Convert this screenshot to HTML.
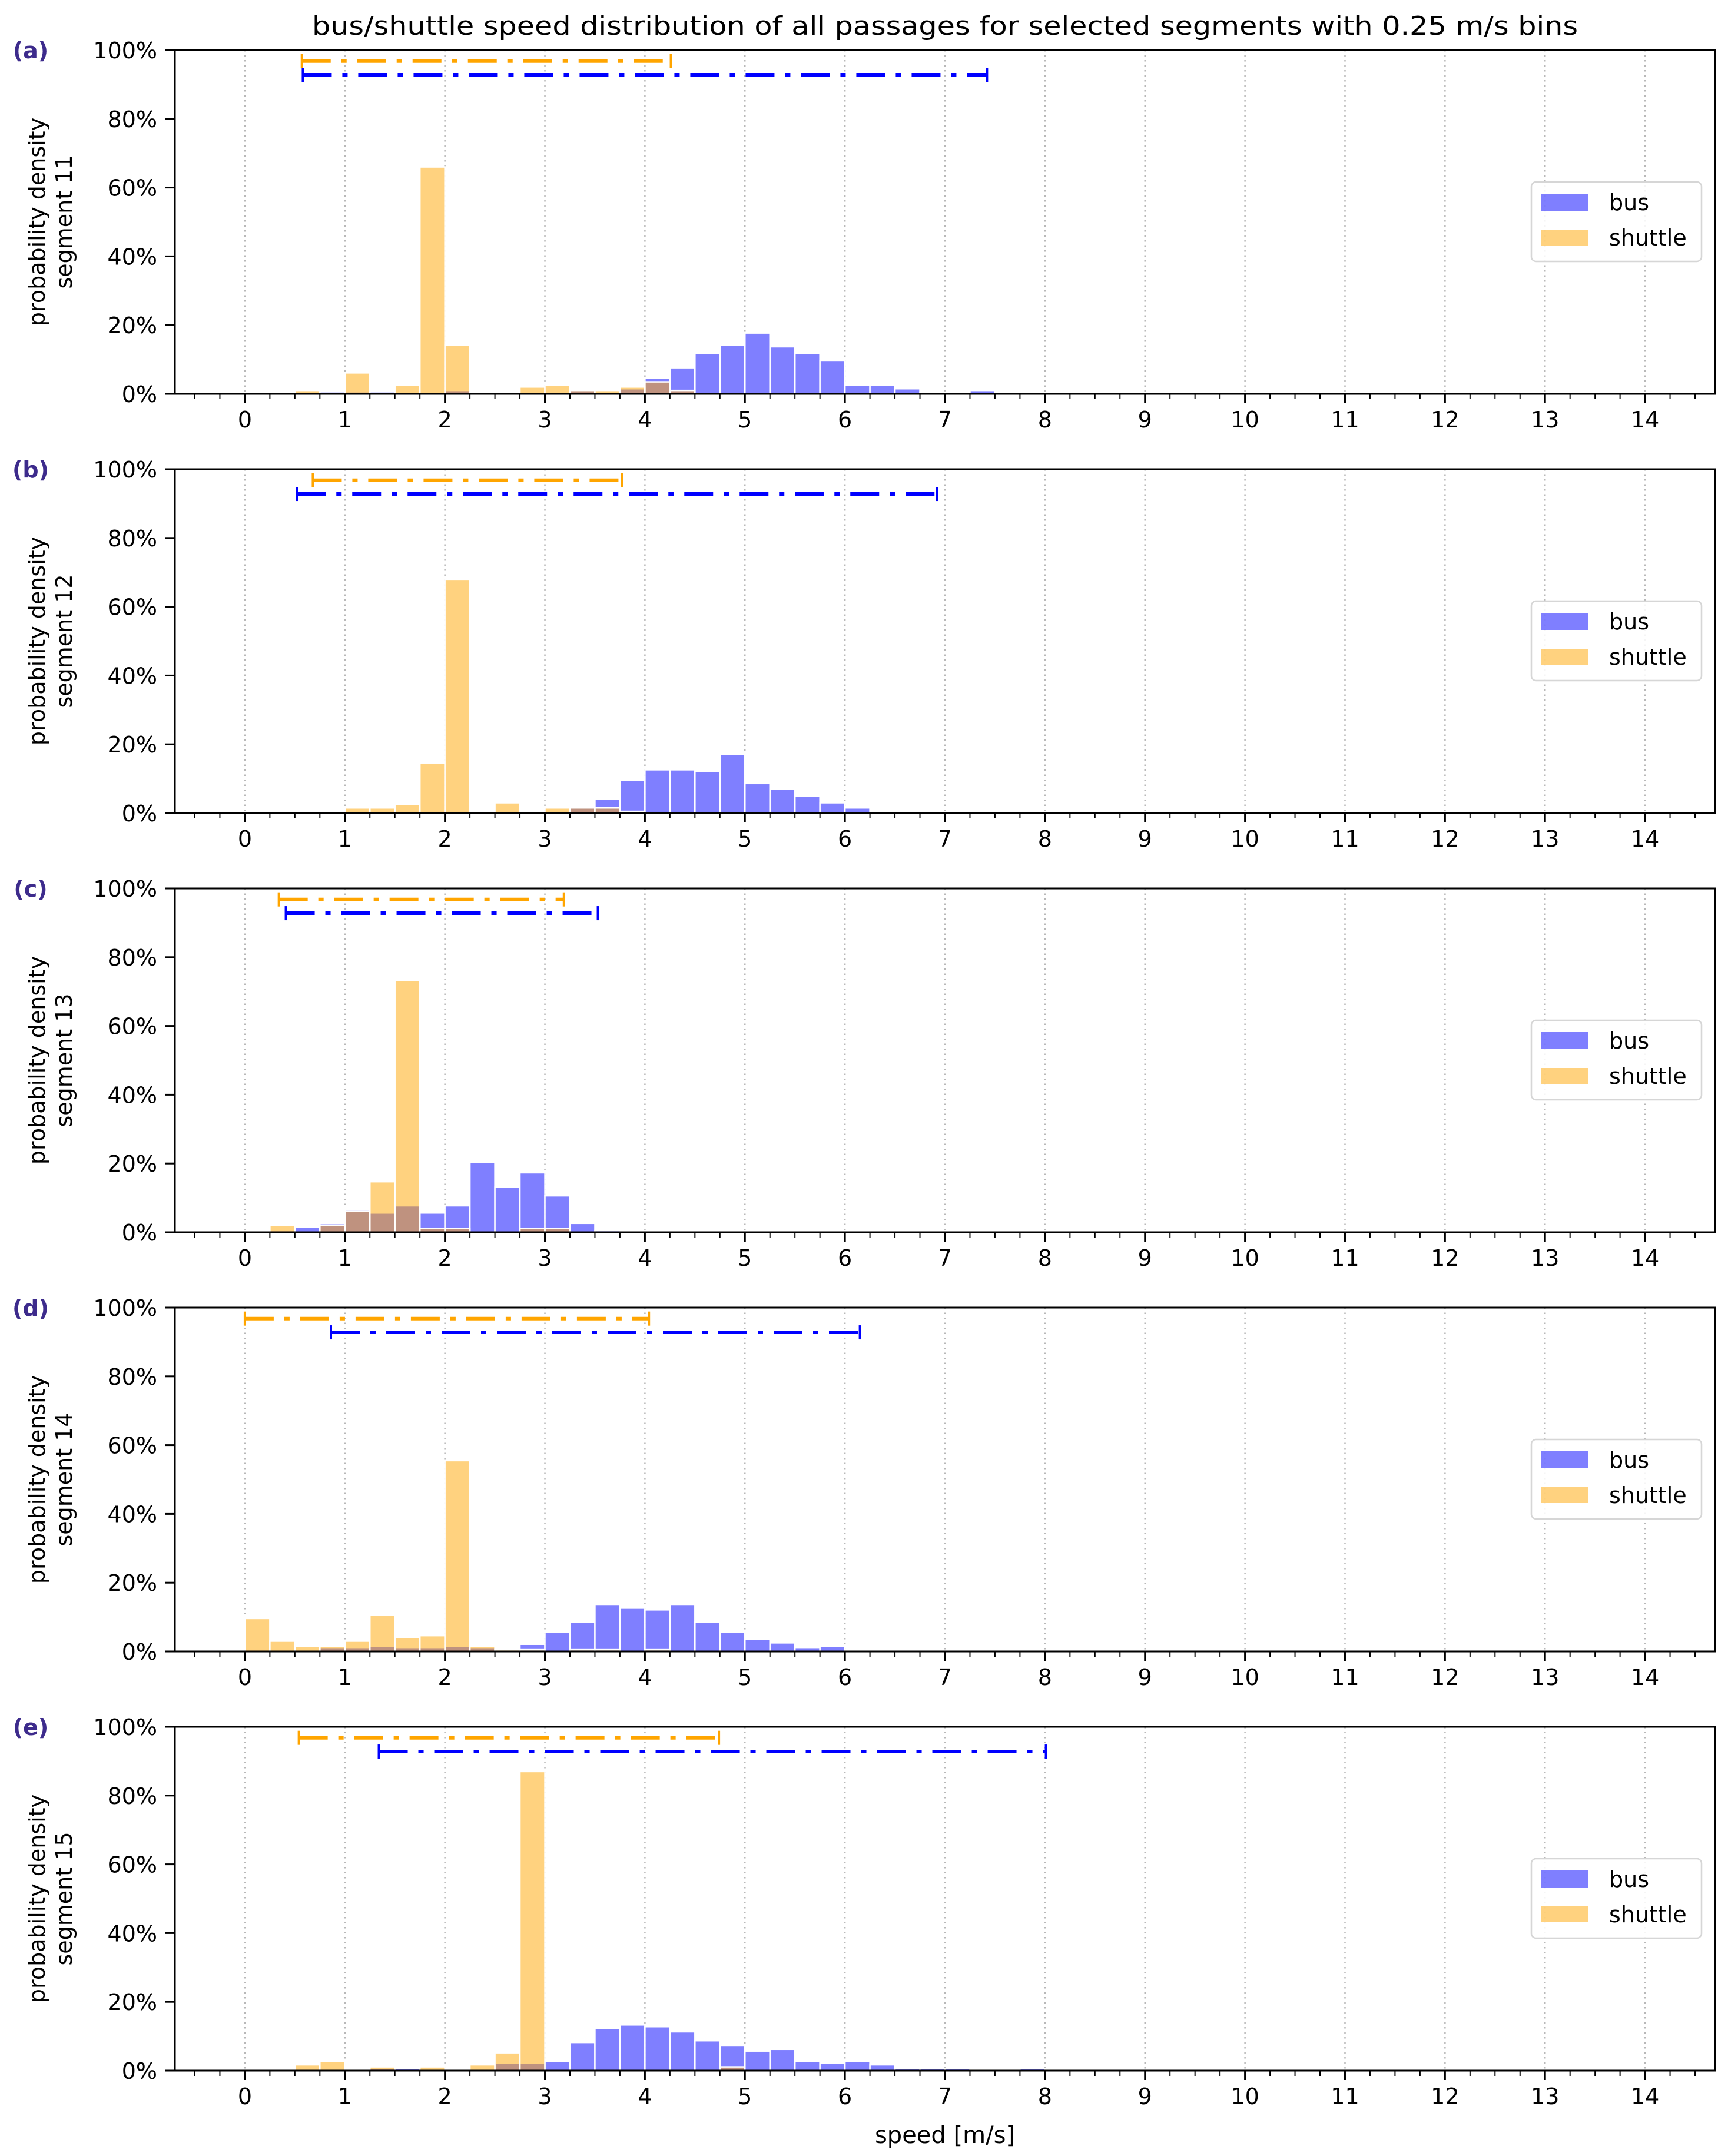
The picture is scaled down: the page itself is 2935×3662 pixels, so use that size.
<!DOCTYPE html>
<html><head><meta charset="utf-8">
<style>
html,body{margin:0;padding:0;background:#fff;}
svg{display:block;font-family:"DejaVu Sans","Liberation Sans",sans-serif;}
</style></head>
<body>
<svg id="chart" xmlns="http://www.w3.org/2000/svg" width="2935" height="3662" viewBox="0 0 2935 3662">
<rect width="2935" height="3662" fill="#fff"/>
<text x="1605" y="59" font-size="44" text-anchor="middle" textLength="2150" lengthAdjust="spacingAndGlyphs">bus/shuttle speed distribution of all passages for selected segments with 0.25 m/s bins</text>
<text x="1605" y="3640" font-size="40" text-anchor="middle">speed [m/s]</text>
</svg>
<script>
// bins of 0.25 m/s starting at 0 (values in %)
const binWidth = 0.25;
const panelLetters = ["(a)","(b)","(c)","(d)","(e)"];
const segmentNames = ["segment 11","segment 12","segment 13","segment 14","segment 15"];
const busA = [0,0,0.5,0.6,0.6,0.6,0,0,1.0,0,0,0,0,1.0,0.5,1.5,4.6,7.6,11.7,14.2,17.7,13.7,11.7,9.6,2.5,2.5,1.5,0.5,0,1.0,0,0];
const shuttleA = [0,0,1.0,0,6.1,0,2.5,66,14.2,0,0,2.0,2.5,1.0,1.0,2.0,3.5,1.0,0,0,0,0,0,0,0,0,0,0,0,0,0,0];
const busB = [0,0,0,0,0,0,0,0,0,0,0,0,0,2.0,4.1,9.6,12.6,12.6,12.1,17.1,8.6,7.0,5.0,3.0,1.5,0,0,0,0,0,0,0];
const shuttleB = [0,0,0.5,0.5,1.5,1.5,2.5,14.6,68,0.5,3.0,0.5,1.5,1.5,1.5,0.5,0,0,0,0,0,0,0,0,0,0,0,0,0,0,0,0];
const busC = [0,0.5,1.5,2.6,6.6,5.6,7.7,5.6,7.7,20.3,13.1,17.3,10.6,2.6,0.5,0,0,0,0,0,0,0,0,0,0,0,0,0,0,0,0,0];
const shuttleC = [0,2.0,0,2.1,6.1,14.7,73.3,1.1,1.1,0,0,1.1,1.1,0,0,0,0,0,0,0,0,0,0,0,0,0,0,0,0,0,0,0];
const busD = [0,0,0,1.0,1.0,1.5,1.0,1.0,1.5,1.0,0,2.1,5.6,8.6,13.7,12.6,12.1,13.7,8.6,5.6,3.5,2.5,1.0,1.5,0,0,0,0,0,0,0,0];
const shuttleD = [9.6,3.0,1.5,1.5,3.0,10.6,4.1,4.6,55.5,1.5,0.5,0.5,0,0.5,0.5,0,0.5,0,0,0,0,0,0,0,0,0,0,0,0,0,0,0];
const busE = [0,0,0,0,0,0.6,0.6,0,0,0,2.2,2.2,2.7,8.2,12.3,13.3,12.8,11.3,8.7,7.2,5.7,6.2,2.7,2.2,2.7,1.7,0.6,0.6,0.6,0,0,0.6];
const shuttleE = [0,0,1.7,2.7,0,1.1,0,1.1,0,1.7,5.2,87,0,0,0,0,0,0,0,1.1,0,0,0,0,0,0,0,0,0,0,0,0];
const busRanges = [[0.58,7.42],[0.52,6.92],[0.41,3.53],[0.86,6.15],[1.34,8.01]];
const shuttleRanges = [[0.57,4.26],[0.68,3.77],[0.34,3.19],[0.0,4.04],[0.54,4.74]];
const busSeries = [busA,busB,busC,busD,busE];
const shuttleSeries = [shuttleA,shuttleB,shuttleC,shuttleD,shuttleE];
const xTickLabels = [0,1,2,3,4,5,6,7,8,9,10,11,12,13,14];
const yTickLabels = [0,20,40,60,80,100];

const NS = "http://www.w3.org/2000/svg";
const svg = document.getElementById('chart');
const L = 297, R = 2913, XMIN = -0.7, XMAX = 14.7, PH = 584;
const tops = [85, 797, 1509, 2221, 2933];
const xs = v => L + (v - XMIN) / (XMAX - XMIN) * (R - L);
function mk(tag, attrs, parent){ const e = document.createElementNS(NS, tag); for (const k in attrs) e.setAttribute(k, attrs[k]); (parent||svg).appendChild(e); return e; }

tops.forEach((top, p) => {
  const bot = top + PH;
  const ys = v => bot - v / 100 * PH;
  const g = mk('g', {});
  
  
  xTickLabels.forEach(t => {
    const gl = mk('line', {x1: xs(t), x2: xs(t), y1: top, y2: bot, stroke: '#b8b8b8', 'stroke-width': 2.5, 'stroke-dasharray': '2.5,6'}, g);
    
    
  });
  const drawBars = (arr, color, name) => {
    arr.forEach((v, i) => {
      if (v <= 0) return;
      const x0 = xs(i * binWidth), x1 = xs((i + 1) * binWidth);
      const r = mk('rect', {x: x0, y: ys(v), width: x1 - x0, height: bot - ys(v), fill: color, 'fill-opacity': 0.5, stroke: '#fff', 'stroke-width': 2.5}, g);
      
      
    });
  };
  drawBars(busSeries[p], '#0000ff', 'bus');
  drawBars(shuttleSeries[p], '#ffa500', 'shuttle');
  const drawRange = (rg, yv, color, name) => {
    const y = ys(yv);
    const ln = mk('line', {x1: xs(rg[0]), x2: xs(rg[1]), y1: y, y2: y, stroke: color, 'stroke-width': 6, 'stroke-dasharray': '49,18,9,18'}, g);
    
    
    [rg[0], rg[1]].forEach(v => {
      const c = mk('line', {x1: xs(v), x2: xs(v), y1: y - 12, y2: y + 12, stroke: color, 'stroke-width': 4}, g);
      
      
    });
  };
  drawRange(shuttleRanges[p], 96.8, '#ffa500', 'shuttle');
  drawRange(busRanges[p], 92.8, '#0000ff', 'bus');
  const fr = mk('rect', {x: L, y: top, width: R - L, height: PH, fill: 'none', stroke: '#000', 'stroke-width': 3}, g);
  
  
  for (let k = -2; k <= 58; k++) {
    const v = k * 0.25;
    if (v < XMIN || v > XMAX) continue;
    const major = (k % 4 === 0);
    const t = mk('line', {x1: xs(v), x2: xs(v), y1: bot, y2: bot + (major ? 16 : 9), stroke: '#000', 'stroke-width': major ? 3 : 2}, g);
    
    
  }
  xTickLabels.forEach(t => {
    const tx = mk('text', {x: xs(t), y: bot + 57, 'font-size': 38, 'text-anchor': 'middle'}, g);
    tx.textContent = t;
    
    
  });
  yTickLabels.forEach(t => {
    const tl = mk('line', {x1: L - 16, x2: L, y1: ys(t), y2: ys(t), stroke: '#000', 'stroke-width': 3}, g);
    
    
    const tx = mk('text', {x: L - 30, y: ys(t) + 14, 'font-size': 38, 'text-anchor': 'end'}, g);
    tx.textContent = t + '%';
    
    
  });
  const cy = top + PH / 2;
  const yl = mk('text', {x: 0, y: 0, 'font-size': 38, 'text-anchor': 'middle', transform: `translate(76,${cy}) rotate(-90)`}, g);
  
  
  const t1 = mk('tspan', {x: 0, dy: 0}, yl); t1.textContent = 'probability density';
  const t2 = mk('tspan', {x: 0, dy: 46}, yl); t2.textContent = segmentNames[p];
  const pl = mk('text', {x: 52, y: top + 14, 'font-size': 38, 'font-weight': 'bold', fill: '#3d2b8c', 'text-anchor': 'middle'}, g);
  pl.textContent = panelLetters[p];
  
  
  const lg = mk('g', {}, g);
  
  
  mk('rect', {x: 2601, y: top + 224, width: 289, height: 135, rx: 8, fill: '#fff', 'fill-opacity': 0.85, stroke: '#d6d6d6', 'stroke-width': 2.5}, lg);
  const e1 = mk('rect', {x: 2617, y: top + 244, width: 80, height: 29, fill: '#0000ff', 'fill-opacity': 0.5}, lg);
  
  
  const e1t = mk('text', {x: 2733, y: top + 272, 'font-size': 38}, lg); e1t.textContent = 'bus';
  
  
  const e2 = mk('rect', {x: 2617, y: top + 305, width: 80, height: 27, fill: '#ffa500', 'fill-opacity': 0.5}, lg);
  
  
  const e2t = mk('text', {x: 2733, y: top + 332, 'font-size': 38}, lg); e2t.textContent = 'shuttle';
  
  
});
</script>
</body></html>
